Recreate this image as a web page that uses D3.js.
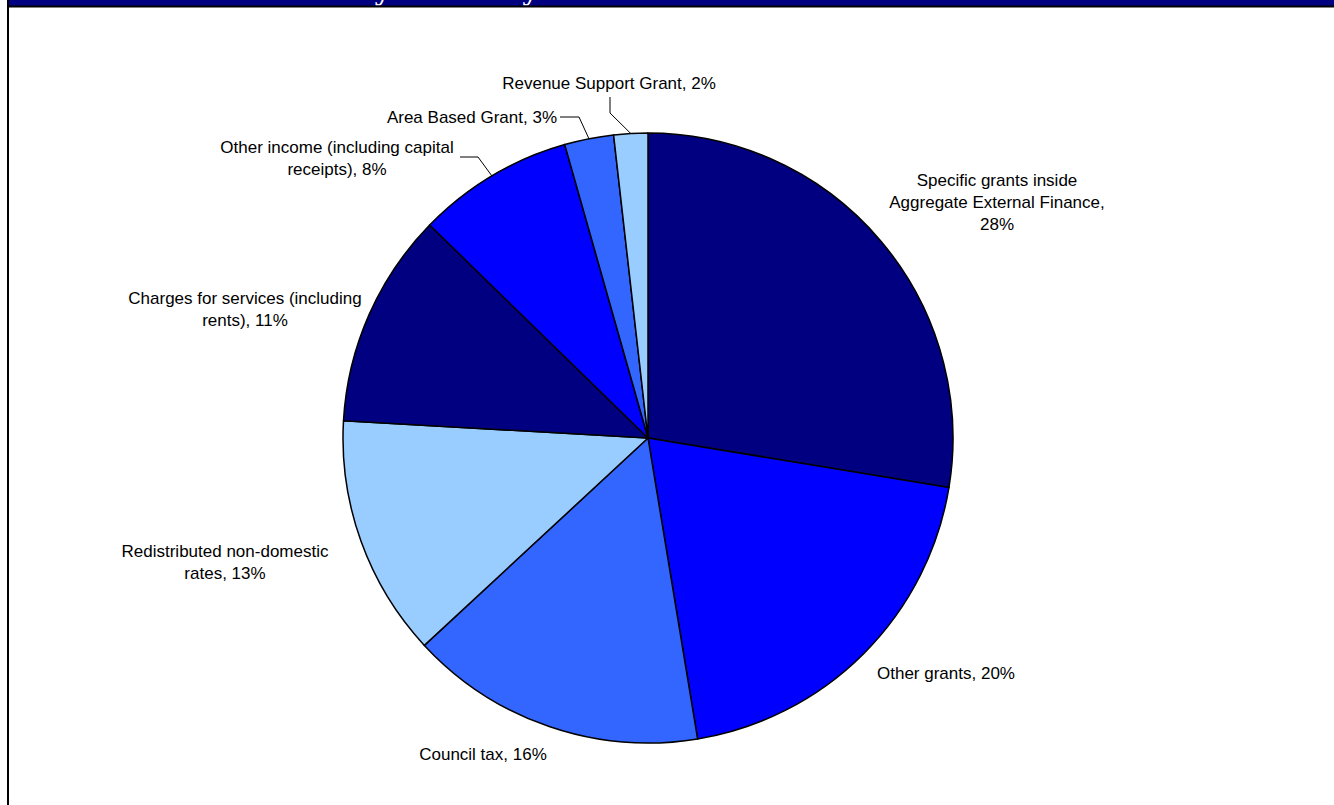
<!DOCTYPE html>
<html>
<head>
<meta charset="utf-8">
<script src="https://cdn.jsdelivr.net/npm/d3@7"></script>
<style>
  html, body { margin: 0; padding: 0; background: #fff; }
  svg { display: block; }
</style>
</head>
<body>
<svg id="chart" width="1334" height="805"></svg>
<script>
const titleText = "Chart 1.3: Local authority income by source 2009-10";
const categories = [
  "Specific grants inside Aggregate External Finance",
  "Other grants",
  "Council tax",
  "Redistributed non-domestic rates",
  "Charges for services (including rents)",
  "Other income (including capital receipts)",
  "Area Based Grant",
  "Revenue Support Grant"
];
const values = [27.6, 19.8, 15.7, 12.8, 11.4, 8.3, 2.6, 1.8];
const labelLines = [
  ["Specific grants inside", "Aggregate External Finance,", "{p}"],
  ["Other grants, {p}"],
  ["Council tax, {p}"],
  ["Redistributed non-domestic", "rates, {p}"],
  ["Charges for services (including", "rents), {p}"],
  ["Other income (including capital", "receipts), {p}"],
  ["Area Based Grant, {p}"],
  ["Revenue Support Grant, {p}"]
];
const colors = ["#000080", "#0000FF", "#3366FF", "#99CCFF", "#000080", "#0000FF", "#3366FF", "#99CCFF"];

const svg = d3.select("#chart");
const W = 1334, H = 805;

// Frame / title bar
const defs = svg.append("defs");
defs.append("clipPath").attr("id", "barclip")
  .append("rect").attr("x", 9).attr("y", 0).attr("width", W - 9).attr("height", 5.5);
svg.append("rect").attr("x", 9).attr("y", 0).attr("width", W - 9).attr("height", 6).attr("fill", "#000080");
svg.append("text").attr("clip-path", "url(#barclip)")
  .attr("x", 30).attr("y", -1.5)
  .attr("font-family", "'Liberation Serif', 'Times New Roman', serif")
  .attr("font-weight", "bold").attr("font-size", 32).attr("fill", "#fff")
  .text(titleText);
svg.append("rect").attr("x", 7).attr("y", 5.5).attr("width", W - 7).attr("height", 2).attr("fill", "#000");
svg.append("rect").attr("x", 7).attr("y", 0).attr("width", 2).attr("height", H).attr("fill", "#000");

// Pie
const cx = 648, cy = 438, r = 305;
const pie = d3.pie().sort(null).value(d => d);
const arcs = pie(values);
const arc = d3.arc().innerRadius(0).outerRadius(r);
const total = d3.sum(values);

const g = svg.append("g").attr("transform", `translate(${cx},${cy})`);
g.selectAll("path").data(arcs).enter().append("path")
  .attr("d", arc)
  .attr("fill", (d, i) => colors[i])
  .attr("stroke", "#000").attr("stroke-width", 1.5).attr("stroke-linejoin", "round");

// Label anchor positions (relative to center, in pixels)
const labelPos = [
  [349, -236], [298, 235], [-165, 316], [-423, 124],
  [-403, -129], [-311, -280], [-91, -321], [-39, -355]
];
const lineH = 22;
const labels = svg.append("g")
  .attr("font-family", "'Liberation Sans', Arial, sans-serif")
  .attr("font-size", 17).attr("fill", "#000");

arcs.forEach((a, i) => {
  const pct = Math.round(values[i] / total * 100) + "%";
  const lines = labelLines[i].map(s => s.replace("{p}", pct));
  const [lx, ly] = labelPos[i];
  const anchor = (i === 6) ? "end" : "middle";
  const t = labels.append("text")
    .attr("text-anchor", anchor)
    .attr("x", cx + lx)
    .attr("y", cy + ly - (lines.length - 1) * lineH / 2);
  lines.forEach((s, k) => {
    t.append("tspan").attr("x", cx + lx).attr("dy", k === 0 ? "0.35em" : lineH).text(s);
  });
});

// Leader lines for small slices
function edgePoint(i) {
  const a = arcs[i];
  const m = (a.startAngle + a.endAngle) / 2;
  return [cx + Math.sin(m) * r, cy - Math.cos(m) * r];
}
const leaders = [
  { i: 7, pts: [[cx - 38, cy - 341], [cx - 38, cy - 325]] },
  { i: 6, pts: [[cx - 88, cy - 321], [cx - 69, cy - 321]] },
  { i: 5, pts: [[cx - 188, cy - 281], [cx - 170, cy - 281]] }
];
const line = d3.line();
leaders.forEach(l => {
  const pts = l.pts.concat([edgePoint(l.i)]);
  svg.append("path").attr("d", line(pts))
    .attr("fill", "none").attr("stroke", "#000").attr("stroke-width", 1);
});
</script>
</body>
</html>
